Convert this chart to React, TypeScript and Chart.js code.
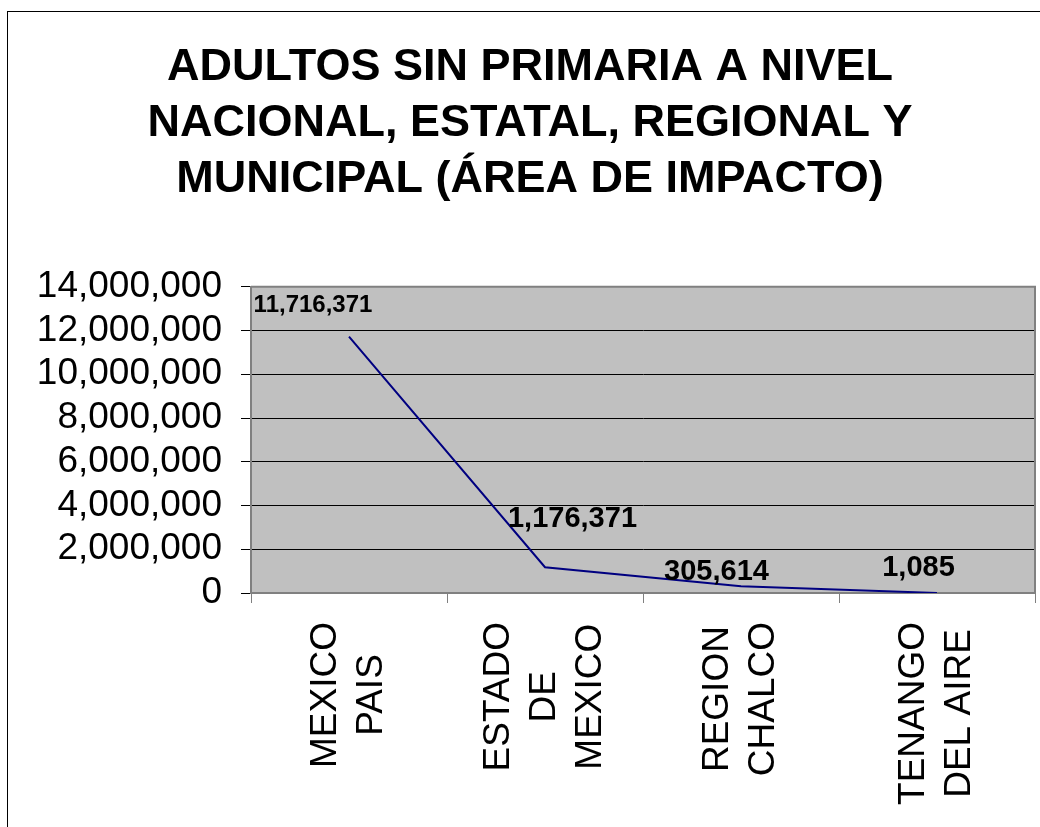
import React, { useEffect, useRef } from "react";
import { Chart, registerables } from "chart.js";

Chart.register(...registerables);

const categories: string[][] = [
  ["MEXICO", "PAIS"],
  ["ESTADO", "DE", "MEXICO"],
  ["REGION", "CHALCO"],
  ["TENANGO", "DEL AIRE"],
];
const values: number[] = [11716371, 1176371, 305614, 1085];
const yMin = 0;
const yMax = 14000000;
const yStep = 2000000;
const titleLines: string[] = [
  "ADULTOS SIN PRIMARIA A NIVEL",
  "NACIONAL, ESTATAL, REGIONAL Y",
  "MUNICIPAL (ÁREA DE IMPACTO)",
];

// label placement relative to each point (style only)
const labelOffsets: number[][] = [
  [-36, -31],
  [27.5, -48],
  [-24.5, -14],
  [-18.5, -25],
];
const labelFontSizes: number[] = [24, 29, 29, 29];

const FONT = "'Liberation Sans', Arial, sans-serif";
const fmt = (v: number) => v.toLocaleString("en-US");

const W = 1040;
const H = 827;

export default function App() {
  const ref = useRef<HTMLCanvasElement | null>(null);

  useEffect(() => {
    if (!ref.current) return;

    const decor = {
      id: "decor",
      beforeDraw(chart: any) {
        const { ctx, chartArea: a } = chart;
        ctx.save();
        ctx.fillStyle = "#ffffff";
        ctx.fillRect(0, 0, chart.width, chart.height);
        ctx.strokeStyle = "#000000";
        ctx.lineWidth = 1;
        ctx.strokeRect(7.5, 11.5, 2000, 2000);
        ctx.fillStyle = "#C0C0C0";
        ctx.fillRect(a.left, a.top, a.right - a.left, a.bottom - a.top);
        ctx.restore();
      },
      beforeDatasetsDraw(chart: any) {
        const { ctx, chartArea: a } = chart;
        ctx.save();
        ctx.strokeStyle = "#808080";
        ctx.lineWidth = 2;
        ctx.beginPath();
        ctx.moveTo(a.left, a.top);
        ctx.lineTo(a.right, a.top);
        ctx.lineTo(a.right, a.bottom);
        ctx.stroke();
        ctx.restore();
      },
      afterDatasetsDraw(chart: any) {
        const { ctx } = chart;
        const meta = chart.getDatasetMeta(0);
        ctx.save();
        ctx.fillStyle = "#000000";
        ctx.textAlign = "center";
        ctx.textBaseline = "middle";
        meta.data.forEach((el: any, i: number) => {
          const off = labelOffsets[i] || [0, -20];
          ctx.font = `bold ${labelFontSizes[i] || 24}px ${FONT}`;
          ctx.fillText(fmt(values[i]), el.x + off[0], el.y + off[1]);
        });
        ctx.restore();
      },
      afterDraw(chart: any) {
        const { ctx, chartArea: a } = chart;
        const xs = chart.scales.x;
        const size = 37;
        const lh = size * 1.25;
        ctx.save();
        ctx.fillStyle = "#000000";
        ctx.font = `${size}px ${FONT}`;
        ctx.textAlign = "center";
        ctx.textBaseline = "middle";
        categories.forEach((lines, i) => {
          const cx = xs.getPixelForValue(i);
          const maxW = Math.max(...lines.map((l) => ctx.measureText(l).width));
          const cy = a.bottom + 29 + maxW / 2;
          lines.forEach((line, j) => {
            const lx = cx + (j - (lines.length - 1) / 2) * lh;
            ctx.save();
            ctx.translate(lx, cy);
            ctx.rotate(-Math.PI / 2);
            ctx.fillText(line, 0, 0);
            ctx.restore();
          });
        });
        ctx.restore();
      },
    };

    const chart = new Chart(ref.current, {
      type: "line",
      data: {
        labels: categories.map((c) => c.join(" ")),
        datasets: [
          {
            data: values,
            borderColor: "#000080",
            borderWidth: 2,
            pointRadius: 0,
            pointHoverRadius: 0,
            tension: 0,
            fill: false,
          },
        ],
      },
      options: {
        responsive: false,
        animation: false,
        layout: { padding: { left: 25, right: 5, top: 0, bottom: 0 } },
        plugins: {
          legend: { display: false },
          tooltip: { enabled: false },
          title: {
            display: true,
            text: titleLines,
            color: "#000000",
            font: { family: FONT, size: 45, weight: "bold", lineHeight: 1.25 },
            padding: { top: 39, bottom: 79 },
          },
        },
        scales: {
          x: {
            type: "category",
            offset: true,
            grid: {
              display: true,
              offset: true,
              drawOnChartArea: false,
              drawTicks: true,
              tickLength: 10,
              color: "#808080",
              tickColor: "#808080",
              lineWidth: 1,
            },
            border: { display: true, color: "#808080", width: 2 },
            ticks: { display: false },
            afterFit: (scale: any) => {
              scale.height = H - 593;
            },
          },
          y: {
            min: yMin,
            max: yMax,
            grid: {
              color: "#000000",
              tickColor: "#000000",
              tickLength: 10,
              lineWidth: 1,
            },
            border: { display: true, color: "#808080", width: 2 },
            ticks: {
              stepSize: yStep,
              autoSkip: false,
              padding: 19,
              color: "#000000",
              font: { family: FONT, size: 37 },
              callback: (v: any) => fmt(Number(v)),
            },
            afterFit: (scale: any) => {
              scale.width = 251 - 25;
            },
          },
        },
      },
      plugins: [decor],
    } as any);

    return () => chart.destroy();
  }, []);

  return (
    <div style={{ position: "fixed", left: 0, top: 0, width: W, height: H, background: "#fff" }}>
      <canvas ref={ref} width={W} height={H} style={{ display: "block", width: W, height: H }} />
    </div>
  );
}
